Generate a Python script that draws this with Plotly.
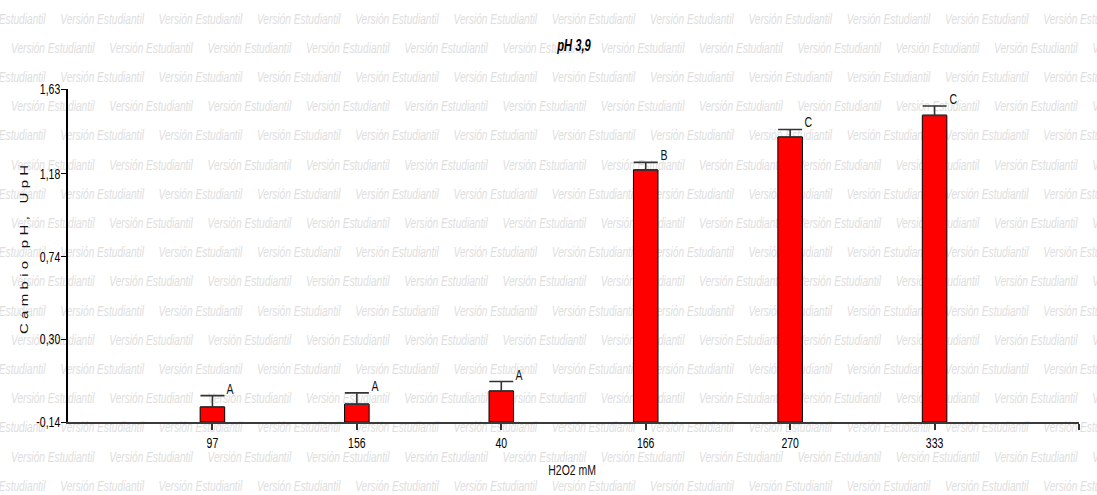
import plotly.graph_objects as go

# H2O2 concentration groups and pH change (mean, upper error) with Tukey letters
categories = ["97", "156", "40", "166", "270", "333"]
means = [-0.06, -0.045, 0.025, 1.20, 1.375, 1.49]
errors = [0.06, 0.06, 0.05, 0.04, 0.04, 0.05]
letters = ["A", "A", "A", "B", "C", "C"]
y_ticks = [-0.14, 0.30, 0.74, 1.18, 1.63]
y_tick_text = ["-0,14", "0,30", "0,74", "1,18", "1,63"]

W, H = 1097, 495
Y_MIN, Y_MAX = -0.14, 1.63
FONT = "Liberation Sans, Arial, sans-serif"

xpos = list(range(1, len(categories) + 1))
bar_len = [m - Y_MIN for m in means]

fig = go.Figure()

# background watermark, laid out on a full-page pixel grid (drawn first, under the bars)
wm_x, wm_y, wm_t = [], [], []
row_h = 29.2
step = 98.3
for r in range(17):
    yc = 20 + r * row_h
    x0 = -38 if r % 2 == 0 else 11
    for c in range(13):
        wm_x.append(x0 + c * step)
        wm_y.append(yc)
        wm_t.append("Versión Estudiantil")
fig.add_trace(go.Scatter(
    x=wm_x, y=wm_y, text=wm_t, mode="text", textposition="middle right",
    textfont=dict(family=FONT, size=14.5, color="#dedede", style="italic"),
    hoverinfo="skip", showlegend=False, xaxis="x", yaxis="y",
))

# bars start at the bottom of the value axis
fig.add_trace(go.Bar(
    x=xpos, y=bar_len, base=[Y_MIN] * len(means), width=0.17,
    marker=dict(color="#ff0000", line=dict(color="#000000", width=1)),
    showlegend=False, xaxis="x2", yaxis="y2",
))

# one-sided error bars on top of each bar
fig.add_trace(go.Scatter(
    x=xpos, y=means, mode="markers",
    marker=dict(size=1, color="rgba(0,0,0,0)"),
    error_y=dict(type="data", array=errors, arrayminus=[0] * len(errors),
                 symmetric=False, color="#333333", thickness=1.6, width=12),
    showlegend=False, hoverinfo="skip", xaxis="x2", yaxis="y2",
))

annotations = []
for xp, m, e, lt in zip(xpos, means, errors, letters):
    annotations.append(dict(
        x=xp, y=m + e, xref="x2", yref="y2", text=lt, showarrow=False,
        xanchor="left", yanchor="bottom", xshift=11, yshift=-3,
        font=dict(family=FONT, size=15, color="#111111"),
    ))

annotations += [
    dict(x=573 / W, y=1 - 45 / H, xref="paper", yref="paper", text="pH 3,9",
         showarrow=False, xanchor="center", yanchor="middle",
         font=dict(family=FONT, size=16, color="#000000", weight="bold", style="italic")),
    dict(x=572 / W, y=1 - 469 / H, xref="paper", yref="paper", text="H2O2 mM",
         showarrow=False, xanchor="center", yanchor="middle",
         font=dict(family=FONT, size=15, color="#111111")),
    dict(x=22 / W, y=1 - 248 / H, xref="paper", yref="paper", text="Cambio pH, UpH",
         showarrow=False, xanchor="center", yanchor="middle", textangle=-90,
         font=dict(family=FONT, size=15, color="#111111")),
]

fig.update_layout(
    width=W, height=H, autosize=False,
    margin=dict(l=0, r=0, t=0, b=0, pad=0, autoexpand=False),
    paper_bgcolor="#ffffff", plot_bgcolor="rgba(0,0,0,0)",
    showlegend=False,
    annotations=annotations,
    xaxis=dict(domain=[0, 1], range=[0, W], visible=False, fixedrange=True),
    yaxis=dict(domain=[0, 1], range=[H, 0], visible=False, fixedrange=True),
    xaxis2=dict(
        domain=[68 / W, 1079 / W], range=[0, 7], anchor="y2",
        tickmode="array", tickvals=xpos + [7], ticktext=categories + [""],
        ticks="outside", ticklen=6, tickwidth=1.5, tickcolor="#333333",
        showline=True, linecolor="#3a3a3a", linewidth=2,
        showgrid=False, zeroline=False, automargin=False,
        tickfont=dict(family=FONT, size=15, color="#000000"),
    ),
    yaxis2=dict(
        domain=[(H - 422) / H, (H - 89) / H], range=[Y_MIN, Y_MAX], anchor="x2",
        tickmode="array", tickvals=y_ticks, ticktext=y_tick_text,
        ticks="outside", ticklen=5, tickwidth=1.2, tickcolor="#000000",
        showline=True, linecolor="#000000", linewidth=1.5,
        showgrid=False, zeroline=False, automargin=False,
        ticklabelstandoff=-2,
        tickfont=dict(family=FONT, size=15, color="#000000"),
    ),
)

# condensed look: horizontal texts are squeezed about their anchor point;
# the rotated caption gets wider letter spacing and thinner glyphs
text_js = """
var gd = document.getElementById('{plot_id}');
gd.querySelectorAll('svg text').forEach(function(t){
  var s = t.textContent;
  if(!s) return;
  var tr = t.getAttribute('transform') || '';
  var ax = parseFloat(t.getAttribute('x') || '0') || 0;
  var ay = parseFloat(t.getAttribute('y') || '0') || 0;
  if(s === 'Cambio pH, UpH'){
    t.style.letterSpacing = '4.3px';
    t.setAttribute('transform', tr + ' translate(0,' + ay + ') scale(1,0.75) translate(0,' + (-ay) + ')');
    return;
  }
  t.setAttribute('transform', tr + ' translate(' + ax + ',0) scale(0.7,1) translate(' + (-ax) + ',0)');
});
"""

fig.write_html("out.html", post_script=text_js)
